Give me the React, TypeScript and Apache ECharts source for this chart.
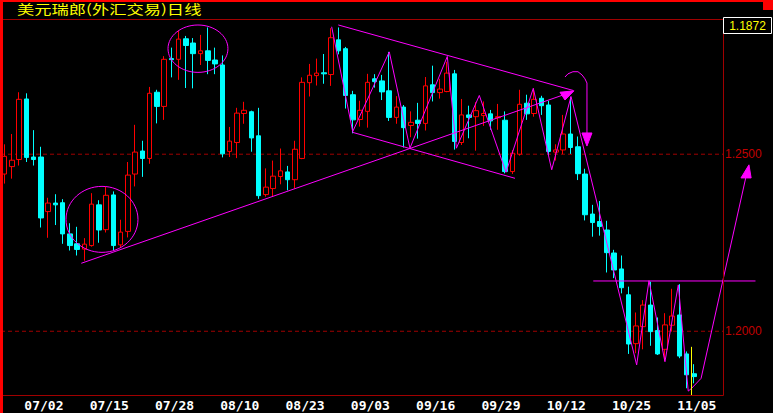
import React, { useEffect, useRef } from 'react';
import * as echarts from 'echarts';

const dates = ['06/25','06/28','06/29','06/30','07/01','07/02','07/05','07/06','07/07','07/08','07/09','07/12','07/13','07/14','07/15','07/16','07/19','07/20','07/21','07/22','07/23','07/26','07/27','07/28','07/29','07/30','08/02','08/03','08/04','08/05','08/06','08/09','08/10','08/11','08/12','08/13','08/16','08/17','08/18','08/19','08/20','08/23','08/24','08/25','08/26','08/27','08/30','08/31','09/01','09/02','09/03','09/06','09/07','09/08','09/09','09/10','09/13','09/14','09/15','09/16','09/17','09/20','09/21','09/22','09/23','09/24','09/27','09/28','09/29','09/30','10/01','10/04','10/05','10/06','10/07','10/08','10/11','10/12','10/13','10/14','10/15','10/18','10/19','10/20','10/21','10/22','10/25','10/26','10/27','10/28','10/29','11/01','11/02','11/03','11/04','11/05'];

const opens = [1.2444,1.2465,1.2485,1.2656,1.2492,1.2492,1.2338,1.2362,1.2363,1.2275,1.2247,1.2232,1.2242,1.2357,1.2287,1.2385,1.2244,1.2282,1.2444,1.2509,1.2488,1.2675,1.2635,1.2770,1.2768,1.2826,1.2814,1.2784,1.2792,1.2766,1.2752,1.2508,1.2533,1.2615,1.2620,1.2552,1.2386,1.2403,1.2437,1.2450,1.2428,1.2488,1.2702,1.2722,1.2730,1.2725,1.2823,1.2798,1.2668,1.2598,1.2621,1.2713,1.2707,1.2679,1.2604,1.2633,1.2581,1.2596,1.2587,1.2696,1.2674,1.2677,1.2727,1.2533,1.2611,1.2606,1.2609,1.2614,1.2603,1.2596,1.2451,1.2500,1.2644,1.2615,1.2658,1.2639,1.2506,1.2512,1.2557,1.2521,1.2444,1.2331,1.2310,1.2286,1.2221,1.2176,1.2103,1.1965,1.2013,1.2074,1.2002,1.1949,1.2017,1.2046,1.1936,1.1880];
const closes = [1.2494,1.2483,1.2655,1.2491,1.2485,1.2320,1.2362,1.2357,1.2275,1.2242,1.2231,1.2246,1.2359,1.2286,1.2384,1.2242,1.2280,1.2441,1.2506,1.2488,1.2672,1.2635,1.2768,1.2767,1.2825,1.2807,1.2784,1.2792,1.2765,1.2755,1.2501,1.2537,1.2616,1.2624,1.2546,1.2383,1.2407,1.2438,1.2453,1.2428,1.2514,1.2703,1.2723,1.2729,1.2727,1.2829,1.2792,1.2666,1.2597,1.2624,1.2703,1.2705,1.2676,1.2604,1.2633,1.2575,1.2590,1.2587,1.2693,1.2674,1.2684,1.2729,1.2536,1.2611,1.2604,1.2623,1.2615,1.2594,1.2606,1.2451,1.2503,1.2641,1.2614,1.2655,1.2637,1.2508,1.2512,1.2557,1.2519,1.2445,1.2329,1.2307,1.2296,1.2222,1.2173,1.2123,1.1964,1.2015,1.2074,1.1999,1.1936,1.2018,1.2043,1.1930,1.1877,1.1872];
const lows = [1.2417,1.2431,1.2468,1.2478,1.2468,1.2293,1.2264,1.2300,1.2247,1.2228,1.2214,1.2199,1.2239,1.2250,1.2279,1.2229,1.2236,1.2265,1.2409,1.2436,1.2473,1.2587,1.2597,1.2717,1.2710,1.2687,1.2686,1.2752,1.2726,1.2726,1.2491,1.2492,1.2489,1.2586,1.2507,1.2374,1.2380,1.2380,1.2415,1.2398,1.2403,1.2486,1.2663,1.2694,1.2699,1.2693,1.2782,1.2629,1.2559,1.2578,1.2575,1.2688,1.2653,1.2594,1.2586,1.2519,1.2548,1.2544,1.2567,1.2649,1.2657,1.2675,1.2513,1.2526,1.2545,1.2510,1.2580,1.2569,1.2569,1.2446,1.2444,1.2496,1.2597,1.2606,1.2611,1.2498,1.2482,1.2500,1.2501,1.2427,1.2313,1.2267,1.2270,1.2166,1.2150,1.2107,1.1936,1.1938,1.1949,1.1959,1.1933,1.1916,1.1999,1.1924,1.1839,1.1853];
const highs = [1.2528,1.2557,1.2675,1.2672,1.2568,1.2521,1.2377,1.2387,1.2373,1.2305,1.2295,1.2263,1.2390,1.2370,1.2408,1.2395,1.2315,1.2478,1.2583,1.2538,1.2690,1.2682,1.2777,1.2801,1.2848,1.2834,1.2828,1.2837,1.2858,1.2801,1.2779,1.2577,1.2631,1.2648,1.2623,1.2631,1.2460,1.2482,1.2516,1.2467,1.2538,1.2717,1.2755,1.2770,1.2783,1.2856,1.2858,1.2803,1.2679,1.2651,1.2727,1.2726,1.2724,1.2789,1.2664,1.2639,1.2621,1.2645,1.2718,1.2750,1.2713,1.2761,1.2738,1.2656,1.2637,1.2647,1.2649,1.2625,1.2642,1.2621,1.2512,1.2682,1.2668,1.2686,1.2665,1.2651,1.2528,1.2611,1.2662,1.2550,1.2459,1.2357,1.2368,1.2312,1.2230,1.2214,1.2126,1.2053,1.2088,1.2140,1.2039,1.2051,1.2120,1.2133,1.1943,1.1907];

const labelDates = ['07/02','07/15','07/28','08/10','08/23','09/03','09/16','09/29','10/12','10/25','11/05'];
const priceTicks = [1.25, 1.2];
const yMin = 1.182;
const yMax = 1.2881;
const slotCount = 106;
const tickLineEnd = 99.02;

// hand-drawn annotations, in [category index, price]
const trendUp = [[10.57, 1.2192], [78.34, 1.2677]];
const channelTop = [[45.99, 1.2865], [78.38, 1.268]];
const channelBottom = [[47.92, 1.2562], [70.35, 1.2432]];
const zigzag = [[45.08, 1.286], [47.98, 1.2564], [53.02, 1.2789], [55.87, 1.2517], [61.02, 1.2776], [62.27, 1.2517], [65.43, 1.2666], [69.11, 1.2449], [72.87, 1.2686], [75.41, 1.2456], [78.07, 1.2663], [87.12, 1.1905], [88.82, 1.2143], [91.02, 1.1914], [92.86, 1.2131], [94.23, 1.1831], [94.7, 1.1839], [96.0, 1.1867], [102.5, 1.2465]];
const resistance = [[81.14, 1.2142], [103.5, 1.2142]];
const hookArrow = [[77.24, 1.2718], [77.65, 1.2727], [78.34, 1.2733], [79.03, 1.2733], [79.58, 1.2724], [79.99, 1.2713], [80.27, 1.2701], [80.27, 1.2557]];
const cursorLine = [[94.68, 1.1956], [94.68, 1.182]];
const arrowHeads = [
  [[76.55, 1.2675], [78.48, 1.2679], [77.24, 1.2653]],
  [[79.58, 1.256], [80.96, 1.256], [80.27, 1.2523]],
  [[102.6, 1.247], [101.5, 1.2433], [102.9, 1.2433]],
];
const ellipses = [[13.42, 1.2316, 4.96, 0.00932], [26.65, 1.2798, 4.13, 0.00669]];

const MAGENTA = '#ff00ff';
const DARKRED = '#a00000';

function annot(data: number[][], color = MAGENTA) {
  return {
    type: 'line',
    xAxisIndex: 1,
    yAxisIndex: 0,
    data,
    symbol: 'none',
    showSymbol: false,
    clip: false,
    silent: true,
    lineStyle: { color, width: 1 },
    z: 5,
  };
}

export default function App() {
  const ref = useRef<HTMLDivElement>(null);
  useEffect(() => {
    const chart = echarts.init(ref.current!, null, { renderer: 'svg' });
    const categories = [...dates];
    for (let i = dates.length; i < slotCount; i++) categories.push('_' + i);
    const candles = dates.map((_, i) => [opens[i], closes[i], lows[i], highs[i]]);

    const tickSeries = priceTicks.map((t) => ({
      type: 'line',
      xAxisIndex: 1,
      yAxisIndex: 0,
      data: [[-0.5, t], [tickLineEnd, t]],
      symbol: 'none',
      silent: true,
      lineStyle: { color: DARKRED, width: 1, type: [4, 3] },
      endLabel: {
        show: true,
        formatter: t.toFixed(4),
        color: '#c00000',
        fontSize: 12,
        fontFamily: 'Liberation Sans',
        distance: 2,
      },
      z: 1,
    }));

    const customData = [
      ...ellipses.map((e) => [e[0], e[1]]),
      ...arrowHeads.map((a) => a[0]),
    ];

    const option: any = {
      animation: false,
      backgroundColor: '#000000',
      grid: { left: 1, right: 3, top: 19.3, bottom: 18 },
      xAxis: [
        {
          type: 'category',
          data: categories,
          boundaryGap: true,
          axisLine: { show: false },
          axisTick: { show: false },
          splitLine: { show: false },
          axisLabel: {
            interval: (_i: number, v: string) => labelDates.includes(v),
            color: '#ffffff',
            fontFamily: 'DejaVu Sans Mono',
            fontWeight: 'bold',
            fontSize: 13,
            margin: 4,
            padding: [0, 0, 0, 6],
          },
        },
        { type: 'value', min: -0.5, max: slotCount - 0.5, show: false },
      ],
      yAxis: { type: 'value', min: yMin, max: yMax, show: false, scale: true },
      series: [
        ...tickSeries,
        {
          type: 'candlestick',
          xAxisIndex: 0,
          yAxisIndex: 0,
          data: candles,
          barWidth: 5,
          itemStyle: {
            color: '#000000',
            color0: '#00ffff',
            borderColor: '#ff0000',
            borderColor0: '#00ffff',
            borderWidth: 1,
          },
          z: 2,
        },
        annot(trendUp),
        annot(channelTop),
        annot(channelBottom),
        annot(zigzag),
        annot(resistance),
        annot(hookArrow),
        annot(cursorLine, '#ffff00'),
        {
          type: 'custom',
          xAxisIndex: 1,
          yAxisIndex: 0,
          data: customData,
          silent: true,
          z: 6,
          renderItem: (params: any, api: any) => {
            const i = params.dataIndex;
            if (i < ellipses.length) {
              const [cx, cy, rx, ry] = ellipses[i];
              const c = api.coord([cx, cy]);
              const s = api.size([rx, ry]);
              return {
                type: 'ellipse',
                shape: { cx: c[0], cy: c[1], rx: s[0], ry: s[1] },
                style: { fill: 'none', stroke: MAGENTA, lineWidth: 1 },
              };
            }
            const pts = arrowHeads[i - ellipses.length].map((p) => api.coord(p));
            return {
              type: 'polygon',
              shape: { points: pts },
              style: { fill: MAGENTA, stroke: MAGENTA, lineWidth: 1 },
            };
          },
        },
      ],
      graphic: [
        { type: 'rect', shape: { x: 0, y: 0, width: 773, height: 2 }, style: { fill: '#ff0000' }, z: 100 },
        { type: 'rect', shape: { x: 0, y: 0, width: 3, height: 413 }, style: { fill: '#ff0000' }, z: 100 },
        { type: 'rect', shape: { x: 763, y: 0, width: 10, height: 10 }, style: { fill: '#ff0000' }, z: 100 },
        { type: 'line', shape: { x1: 3, y1: 19.5, x2: 723, y2: 19.5 }, style: { stroke: DARKRED, lineWidth: 1 }, z: 100 },
        { type: 'line', shape: { x1: 3, y1: 395.5, x2: 723.5, y2: 395.5 }, style: { stroke: DARKRED, lineWidth: 1 }, z: 100 },
        { type: 'line', shape: { x1: 723.5, y1: 19.5, x2: 723.5, y2: 395.5 }, style: { stroke: DARKRED, lineWidth: 1 }, z: 100 },
        { type: 'rect', shape: { x: 723.5, y: 17.5, width: 48, height: 16 }, style: { fill: '#000000', stroke: '#ffffff', lineWidth: 1 }, z: 101 },
        {
          type: 'text',
          x: 747.5,
          y: 26,
          style: {
            text: closes[closes.length - 1].toFixed(4),
            fill: '#ffff00',
            fontSize: 12,
            fontFamily: 'Liberation Sans',
            textAlign: 'center',
            textVerticalAlign: 'middle',
          },
          z: 102,
        },
        {
          type: 'text',
          x: 17,
          y: 8.5,
          scaleX: 1.33,
          style: {
            text: '美元瑞郎(外汇交易)日线',
            fill: '#ffff00',
            fontSize: 13,
            fontFamily: 'Noto Sans CJK SC',
            textAlign: 'left',
            textVerticalAlign: 'middle',
          },
          z: 102,
        },
      ],
    };
    chart.setOption(option);
    return () => chart.dispose();
  }, []);
  return (
    <div
      ref={ref}
      style={{ position: 'fixed', left: 0, top: 0, width: 773, height: 413, background: '#000' }}
    />
  );
}
